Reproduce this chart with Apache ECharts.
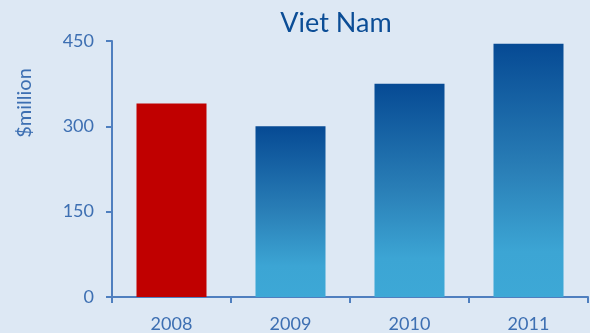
<!DOCTYPE html>
<html>
<head>
<meta charset="utf-8">
<script src="https://cdn.jsdelivr.net/npm/echarts@6/dist/echarts.min.js"></script>
<style>
  html, body { margin: 0; padding: 0; background: #dde8f4; }
  #main { width: 590px; height: 333px; }
</style>
</head>
<body>
<div id="main"></div>
<script>
var years = ['2008', '2009', '2010', '2011'];
var values = [340, 300, 375, 445];
var yTicks = [0, 150, 300, 450];

var font = 'Lato, "Open Sans", sans-serif';
var axisColor = '#4f7fbf';
var textColor = '#3d6fb2';

// 2008 is highlighted red, the rest use the blue gradient
function barColor(i) {
    if (i === 0) return '#c00000';
    return new echarts.graphic.LinearGradient(0, 0, 0, 1, [
        { offset: 0, color: '#064a94' },
        { offset: 0.5, color: '#2a7fb7' },
        { offset: 0.82, color: '#3ca5d4' },
        { offset: 1, color: '#3da8d6' }
    ]);
}

var barData = [];
for (var i = 0; i < values.length; i++) {
    barData.push({ value: values[i], itemStyle: { color: barColor(i) } });
}

var myChart = echarts.init(document.getElementById('main'));
var option = {
    backgroundColor: '#dde8f4',
    animation: false,
    title: {
        text: 'Viet Nam',
        left: 331,
        textAlign: 'center',
        top: 5,
        textStyle: { color: '#0b4d96', fontFamily: font, fontSize: 27, fontWeight: 'normal' }
    },
    graphic: [{
        type: 'text',
        x: 25,
        y: 103,
        rotation: Math.PI / 2,
        style: {
            text: '$million',
            fill: textColor,
            font: '20px ' + font,
            align: 'center',
            verticalAlign: 'middle'
        }
    }],
    grid: { left: 112, right: 2, top: 41, bottom: 34 },
    xAxis: {
        type: 'category',
        data: years,
        axisLine: { lineStyle: { color: axisColor, width: 2 } },
        axisTick: { show: true, alignWithLabel: false, length: 6, lineStyle: { color: axisColor, width: 2 } },
        axisLabel: { color: textColor, fontFamily: font, fontSize: 18, margin: 18 }
    },
    yAxis: {
        type: 'value',
        min: yTicks[0],
        max: yTicks[yTicks.length - 1],
        interval: yTicks[1] - yTicks[0],
        splitLine: { show: false },
        axisLine: { show: true, lineStyle: { color: axisColor, width: 2 } },
        axisTick: { show: true, length: 6, lineStyle: { color: axisColor, width: 2 } },
        axisLabel: { color: textColor, fontFamily: font, fontSize: 18, margin: 18 }
    },
    series: [{
        type: 'bar',
        data: barData,
        barWidth: 70
    }]
};
myChart.setOption(option);
</script>
</body>
</html>
